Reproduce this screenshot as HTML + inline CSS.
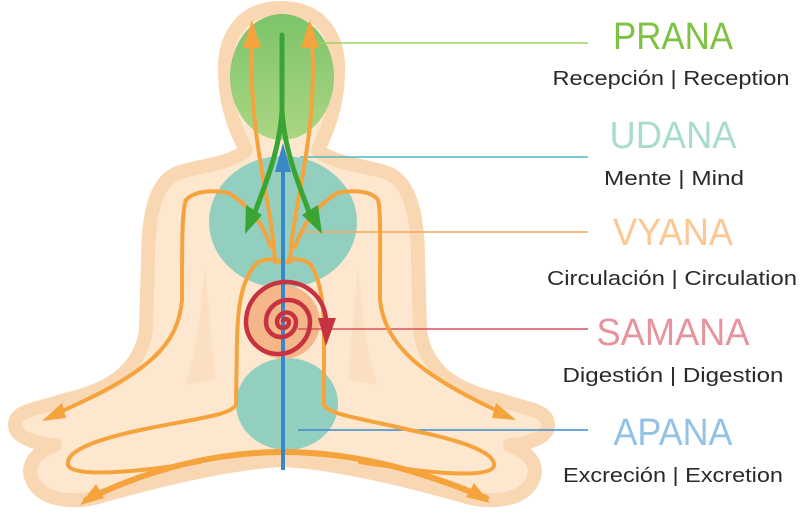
<!DOCTYPE html>
<html><head><meta charset="utf-8"><style>
html,body{margin:0;padding:0;background:#fff;}
svg{display:block;}
text{font-family:"Liberation Sans",sans-serif;}
</style></head><body>
<svg width="800" height="516" viewBox="0 0 800 516" xmlns="http://www.w3.org/2000/svg">
<defs>
<linearGradient id="hg" x1="0" y1="0" x2="0" y2="1"><stop offset="0" stop-color="#7cc36a"/><stop offset="1" stop-color="#acd684"/></linearGradient>
</defs>
<!-- body -->
<path d="M281,8 C320,8 340,35 338,75 C337,110 325,135 318,150 C330,162 360,165 385,172 C410,180 418,215 418,260 L420,330 C425,370 455,390 500,400 C530,410 548,410 548,425 C548,440 520,445 510,445 C535,455 540,470 530,485 C520,500 490,505 460,495 C400,478 330,462 283,460 C235,462 165,478 105,495 C75,505 45,500 35,485 C25,470 30,455 55,445 C45,445 15,440 15,425 C15,410 35,410 65,400 C110,390 140,370 146,330 L148,260 C148,215 155,180 180,172 C205,165 235,162 246,150 C238,135 226,110 225,75 C223,35 243,8 281,8 Z" fill="#fde7cf" stroke="#f8d7b2" stroke-width="14" stroke-linejoin="round"/>
<!-- shading -->
<path d="M205,265 C200,320 195,360 185,385 L215,380 Z" fill="#f9dcbc" opacity="0.7"/>
<path d="M358,265 C363,320 368,360 378,385 L348,380 Z" fill="#f9dcbc" opacity="0.7"/>
<!-- chakras -->
<ellipse cx="282" cy="77" rx="52" ry="63" fill="url(#hg)"/>
<ellipse cx="283" cy="222" rx="74" ry="66" fill="#93cfbf"/>
<ellipse cx="287" cy="404" rx="51" ry="46" fill="#93cfbf"/>
<circle cx="283" cy="322" r="37" fill="#f5b689"/>
<!-- leader lines -->
<line x1="300" y1="43" x2="588" y2="43" stroke="#9ed266" stroke-width="1.5"/>
<line x1="300" y1="157" x2="588" y2="157" stroke="#4dbcc0" stroke-width="1.5"/>
<line x1="300" y1="232" x2="588" y2="232" stroke="#f6a95a" stroke-width="1.5"/>
<line x1="298" y1="329" x2="588" y2="329" stroke="#d9505e" stroke-width="1.5"/>
<line x1="298" y1="430" x2="588" y2="430" stroke="#3c8ad0" stroke-width="1.5"/>
<!-- orange flows -->
<g fill="none" stroke="#f5a33c" stroke-width="4" stroke-linecap="round" stroke-linejoin="round">
<path d="M275,262 C272,200 248,140 252,40"/>
<path d="M290,262 C293,200 318,140 312,40"/>
<path d="M271,247 C262,222 250,207 229,193 C215,190 195,190 186,200 C182,210 182,240 182,300 C178,345 150,372 60,412"/>
<path d="M295,247 C304,222 316,207 337,193 C351,190 371,190 378,200 C381,210 380,240 380,300 C385,345 420,375 500,412"/>
<path d="M280,262 C276,258 262,258 255,265 C243,280 238,300 237,340 L236,405 C230,415 200,418 150,428 C100,438 65,450 68,465 C72,478 140,472 200,462"/>
<path d="M286,262 C290,258 304,258 311,265 C320,280 324,300 324,340 L324,405 C330,415 360,418 410,430 C460,440 496,452 494,466 C490,480 420,472 360,462"/>
<path d="M86,500 C150,468 220,452 283,452 C350,452 420,470 486,498" stroke-width="6"/>
</g>
<g fill="#f5a33c">
<polygon points="252,20 243,48 261,48"/>
<polygon points="310,20 301,48 319,48"/>
<polygon points="42,421 62,403 66,418"/>
<polygon points="516,420 496,403 492,418"/>
<polygon points="80,505 96,484 104,498"/>
<polygon points="490,503 474,483 466,497"/>
</g>
<!-- green -->
<g fill="none" stroke="#3aa535" stroke-width="5" stroke-linecap="round">
<path d="M282,35 L282,110"/>
<path d="M282,110 C280,150 265,185 252,220"/>
<path d="M282,110 C284,150 299,185 312,220"/>
</g>
<polygon points="245,234 246,205 262,215" fill="#3aa535"/>
<polygon points="322,234 318,205 302,215" fill="#3aa535"/>
<!-- blue -->
<line x1="283" y1="470" x2="283" y2="165" stroke="#3a87c8" stroke-width="4"/>
<polygon points="283,143 275,172 291,172" fill="#3a87c8"/>
<!-- red spiral -->
<path d="M283,322 A3,3 0 0 1 289,322 A6,6 0 0 1 277,322 A9.5,9.5 0 0 1 296,322 A15,15 0 0 1 266,322 A22,22 0 0 1 310,322 A32,32 0 0 1 246,322 A40,40 0 0 1 326,322" fill="none" stroke="#c8313f" stroke-width="4.5"/>
<polygon points="326,346 318,318 336,318" fill="#c8313f"/>
<!-- labels -->
<g text-anchor="middle">
<text x="673" y="49" font-size="38" fill="#7dc242" textLength="120" lengthAdjust="spacingAndGlyphs">PRANA</text>
<text x="671" y="85" font-size="20" fill="#2a2a2a" textLength="237" lengthAdjust="spacingAndGlyphs">Recepción | Reception</text>
<text x="673" y="148" font-size="38" fill="#a8dccf" textLength="127" lengthAdjust="spacingAndGlyphs">UDANA</text>
<text x="674" y="185" font-size="20" fill="#2a2a2a" textLength="140" lengthAdjust="spacingAndGlyphs">Mente | Mind</text>
<text x="673" y="245" font-size="38" fill="#fbc793" textLength="120" lengthAdjust="spacingAndGlyphs">VYANA</text>
<text x="672" y="285" font-size="20" fill="#2a2a2a" textLength="250" lengthAdjust="spacingAndGlyphs">Circulación | Circulation</text>
<text x="673" y="345" font-size="38" fill="#e8939c" textLength="153" lengthAdjust="spacingAndGlyphs">SAMANA</text>
<text x="673" y="382" font-size="20" fill="#2a2a2a" textLength="221" lengthAdjust="spacingAndGlyphs">Digestión | Digestion</text>
<text x="673" y="445" font-size="38" fill="#92c2e6" textLength="119" lengthAdjust="spacingAndGlyphs">APANA</text>
<text x="673" y="482" font-size="20" fill="#2a2a2a" textLength="220" lengthAdjust="spacingAndGlyphs">Excreción | Excretion</text>
</g>
</svg>
</body></html>
